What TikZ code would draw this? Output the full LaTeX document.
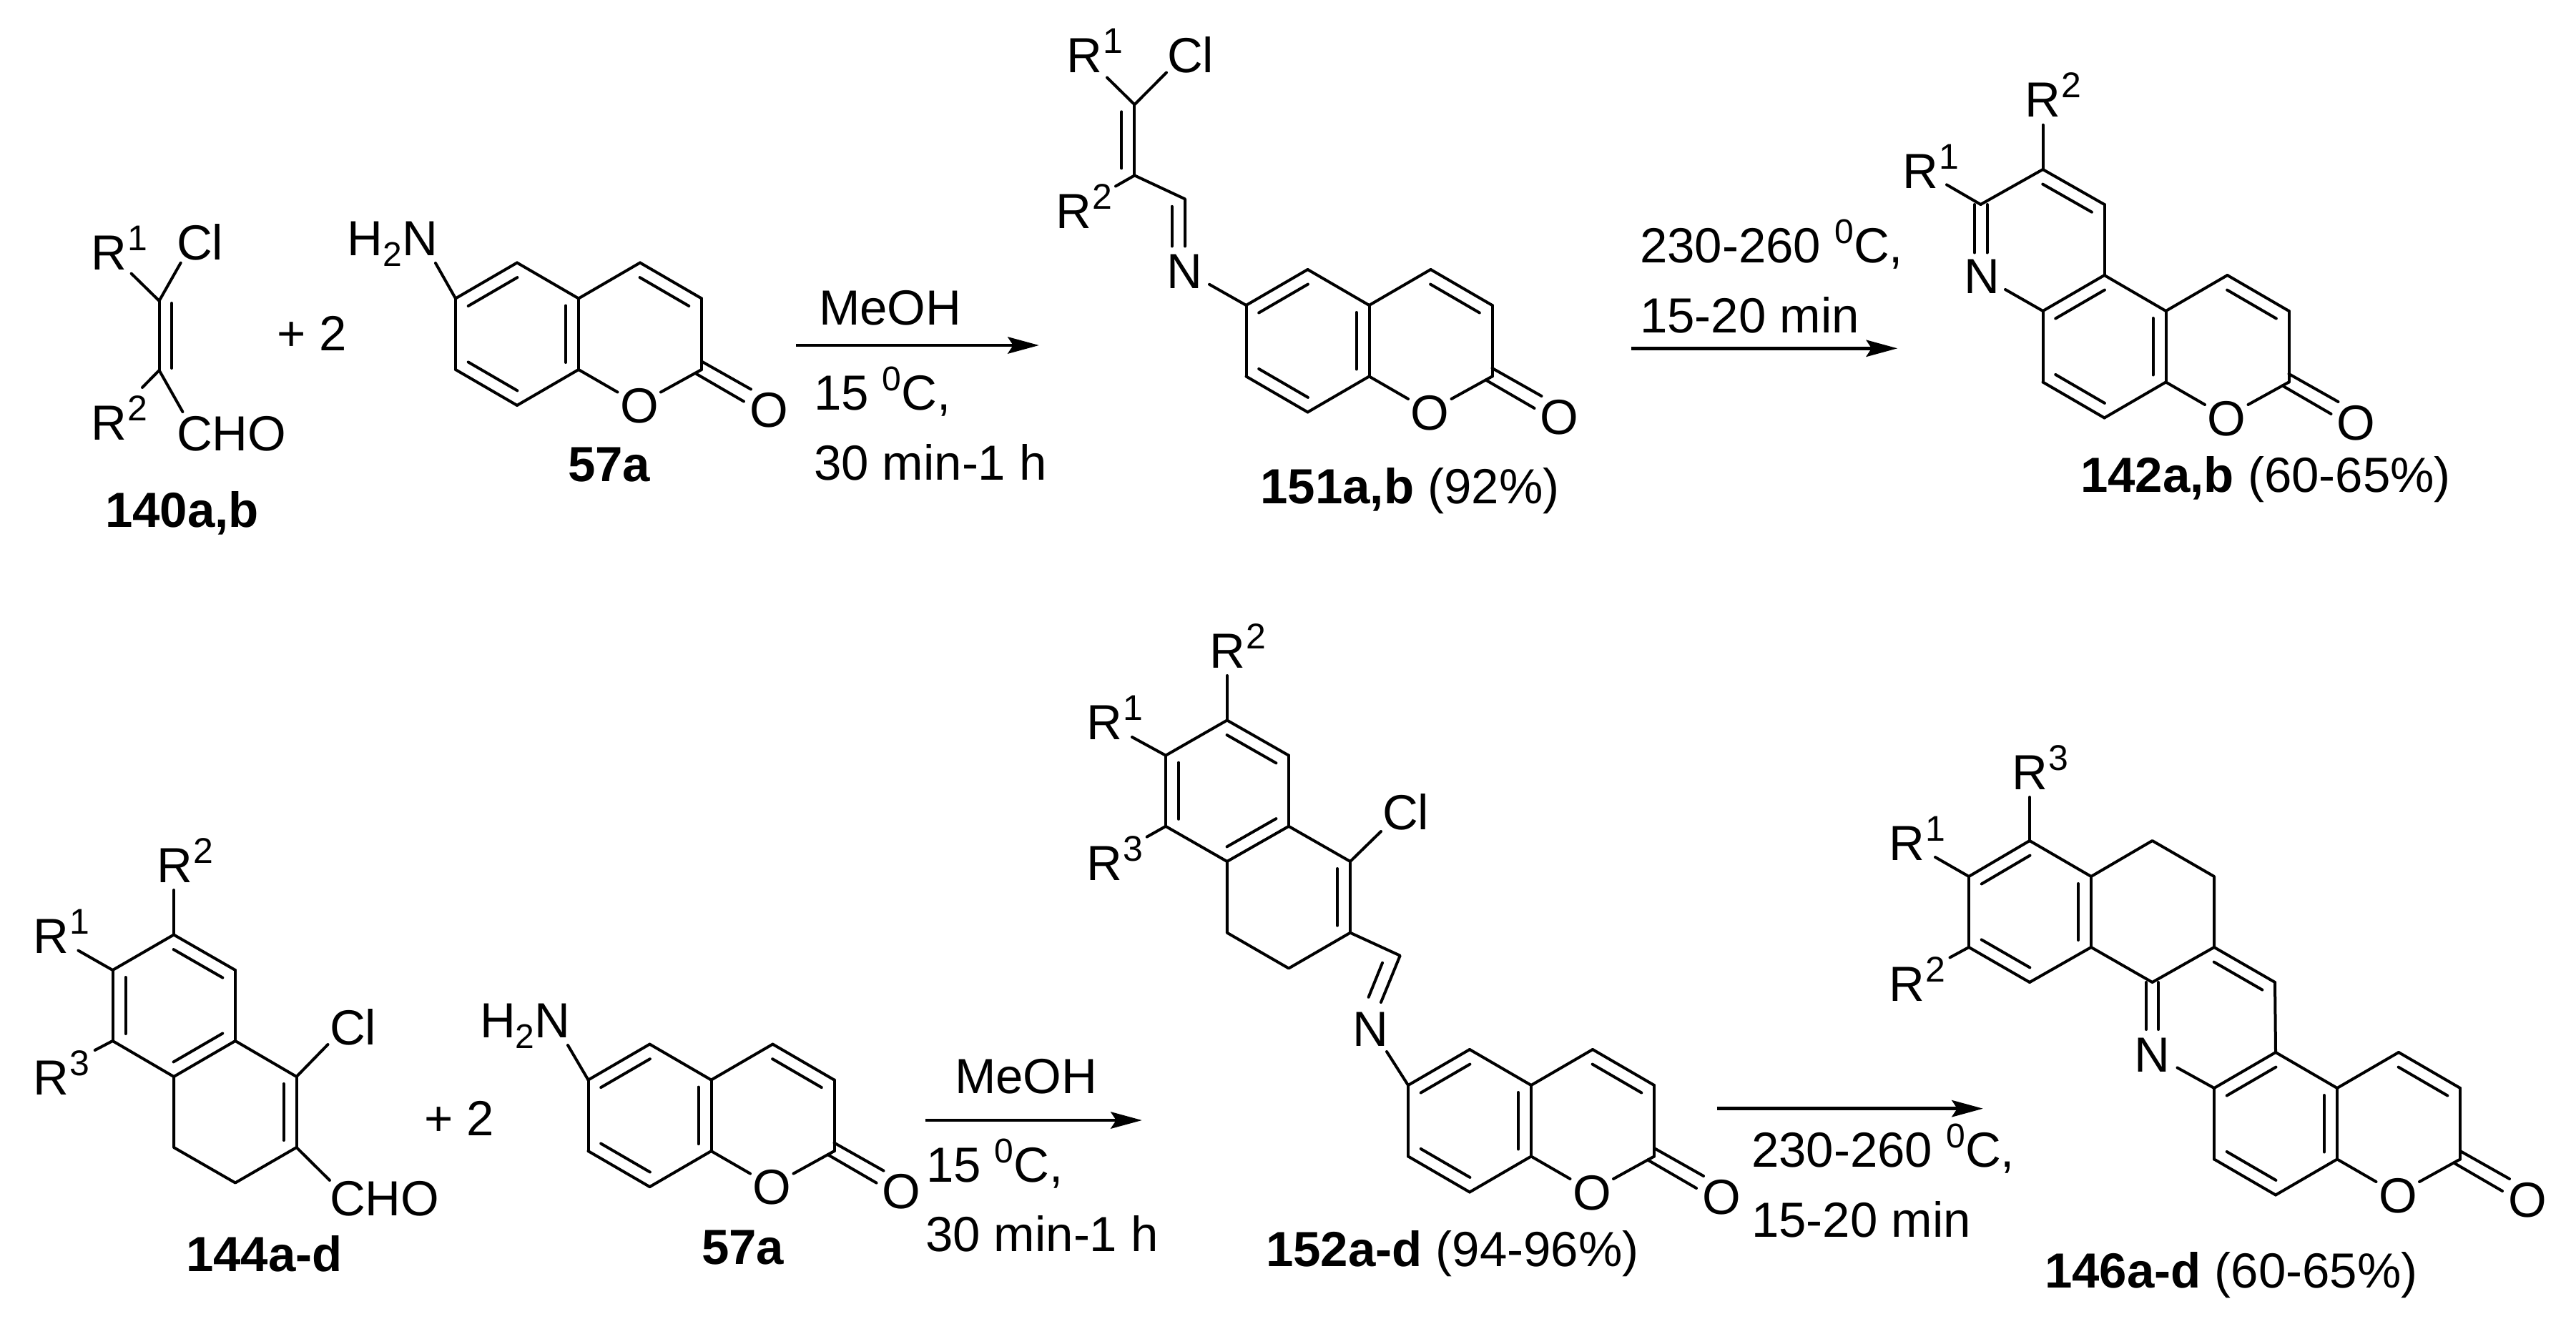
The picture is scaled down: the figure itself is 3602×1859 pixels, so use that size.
\documentclass[tikz,border=0pt]{standalone}
\usepackage{fontspec}
\setmainfont{Liberation Sans}
\usetikzlibrary{calc,arrows.meta}
\tikzset{
  bond/.style={line width=4pt,line cap=round,line join=round,black},
  rxnarrow/.style={line width=4.5pt,black,-{Stealth[length=44pt,width=24pt,inset=8pt,line width=0pt]}},
  lab/.style={inner sep=0pt,outer sep=0pt,anchor=base west,font=\fontsize{69}{80}\selectfont,text=black},
}
\newcommand\sups[1]{\raisebox{27pt}{\fontsize{48}{48}\selectfont #1}}
\newcommand\rsup[1]{\kern2pt\raisebox{27pt}{\fontsize{50}{50}\selectfont #1}}
\newcommand\subs[1]{\raisebox{-15pt}{\fontsize{48}{48}\selectfont #1}}
\newcommand\dblbond[2]{%
  \draw[bond] (#1) -- (#2);
  \draw[bond] ($(#1)!10pt!(#2)!18pt!90:(#2)$) -- ($(#2)!10pt!(#1)!-18pt!90:(#1)$);
}
% prefix, x and y of the ring atom C6
\newcommand\coumarin[3]{%
  \begin{scope}[shift={(#2,#3)}]
    \coordinate (#1a) at (0,0);
    \coordinate (#1b) at (86,-50);
    \coordinate (#1c) at (172,0);
    \coordinate (#1d) at (172,99.5);
    \coordinate (#1e) at (86,149.5);
    \coordinate (#1f) at (0,99.5);
    \coordinate (#1g) at (258,-50);
    \coordinate (#1h) at (344,0);
    \coordinate (#1i) at (344,99.5);
    \coordinate (#1oa) at (226.5,131);
    \coordinate (#1ob) at (287,131);
    \coordinate (#1xa) at (344,88);
    \coordinate (#1xb) at (413,127);
    \coordinate (#1xc) at (335,104.5);
    \coordinate (#1xd) at (403,144);
    \node[lab,anchor=base] (#1O) at (257,174) {O};
    \node[lab,anchor=base] (#1Ox) at (438,180) {O};
  \end{scope}
  \dblbond{#1b}{#1a}
  \draw[bond] (#1b) -- (#1c);
  \dblbond{#1d}{#1c}
  \draw[bond] (#1d) -- (#1e);
  \dblbond{#1f}{#1e}
  \draw[bond] (#1f) -- (#1a);
  \draw[bond] (#1c) -- (#1g);
  \dblbond{#1h}{#1g}
  \draw[bond] (#1h) -- (#1i);
  \draw[bond] (#1d) -- (#1oa);
  \draw[bond] (#1i) -- (#1ob);
  \draw[bond] (#1xa) -- (#1xb);
  \draw[bond] (#1xc) -- (#1xd);
}
\begin{document}
\begin{tikzpicture}[x=1pt,y=-1pt]
\useasboundingbox (0,0) rectangle (3602,1859);
\fill[white] (0,0) rectangle (3602,1859);

% ---------- 140a,b
\coordinate (ua) at (222.6,420.8);
\coordinate (ub) at (222.6,518);
\coordinate (uc) at (240,424);
\coordinate (ud) at (240,515);
\coordinate (ue) at (183.7,382.7);
\coordinate (uf) at (252.7,367.7);
\coordinate (ug) at (199,542);
\coordinate (uh) at (255.4,576);
\draw[bond] (ua) -- (ub);
\draw[bond] (uc) -- (ud);
\draw[bond] (ue) -- (ua) -- (uf);
\draw[bond] (ug) -- (ub) -- (uh);
\node[lab] (uR1) at (127,377.7) {R\rsup{1}};
\node[lab] (uCl) at (247,363) {Cl};
\node[lab] (uR2) at (127,615) {R\rsup{2}};
\node[lab] (uCHO) at (247,630) {CHO};
\node[lab] (uplus) at (387,490.5) {+ 2};
\node[lab] (ulabel) at (147,737.6) {\textbf{140a,b}};

% ---------- 57a top
\coumarin{p}{637}{417.5}
\coordinate (pn) at (609,368);
\draw[bond] (pn) -- (pa);
\node[lab] (pNH) at (485.5,357.8) {H\subs{2}N};
\node[lab] (plabel) at (794,673.5) {\textbf{57a}};

% ---------- arrow 1
\coordinate (aas) at (1113,483);
\coordinate (aae) at (1452.7,483);
\draw[rxnarrow] (aas) -- (aae);
\node[lab] (aat1) at (1145,454) {MeOH};
\node[lab] (aat2) at (1138,573) {15 \sups{0}C,};
\node[lab] (aat3) at (1138,671) {30 min-1 h};

% ---------- 151a,b
\coumarin{q}{1742.5}{427}
\coordinate (qp) at (1586.4,146.3);
\coordinate (qr) at (1586.4,245.4);
\coordinate (qch) at (1657,278.4);
\coordinate (qcha) at (1657,344.5);
\coordinate (qchb) at (1638.5,288.8);
\coordinate (qchc) at (1638.5,344.5);
\coordinate (qn) at (1691,397.8);
\coordinate (qs) at (1548,108.5);
\coordinate (qt) at (1631,101.5);
\coordinate (qu) at (1560,260.5);
\dblbond{qr}{qp}
\draw[bond] (qs) -- (qp) -- (qt);
\draw[bond] (qu) -- (qr) -- (qch) -- (qcha);
\draw[bond] (qchb) -- (qchc);
\draw[bond] (qn) -- (qa);
\node[lab] (qR1) at (1491,101.5) {R\rsup{1}};
\node[lab] (qCl) at (1632,101.5) {Cl};
\node[lab] (qR2) at (1476,320) {R\rsup{2}};
\node[lab] (qN) at (1631,403.5) {N};
\node[lab] (qlabel) at (1762.5,704) {\textbf{151a,b} (92\%)};

% ---------- arrow 2
\coordinate (abs) at (2280.7,487.3);
\coordinate (abe) at (2653,487.3);
\draw[rxnarrow] (abs) -- (abe);
\node[lab] (abt1) at (2293,367.7) {230-260 \sups{0}C,};
\node[lab] (abt2) at (2293,465) {15-20 min};

% ---------- 142a,b
\coumarin{r}{2856.5}{435}
\coordinate (rj) at (2942.5,286);
\coordinate (rk) at (2856.5,237);
\coordinate (rl) at (2769.5,286);
\coordinate (rm) at (2856.5,174.7);
\coordinate (rn) at (2722,258.4);
\coordinate (ro) at (2804,405);
\coordinate (rla) at (2761,286);
\coordinate (rlb) at (2761,353.5);
\coordinate (rlc) at (2778.5,286);
\coordinate (rld) at (2778.5,353.5);
\draw[bond] (rb) -- (rj);
\dblbond{rj}{rk}
\draw[bond] (rk) -- (rl);
\draw[bond] (rm) -- (rk);
\draw[bond] (rn) -- (rl);
\draw[bond] (rla) -- (rlb);
\draw[bond] (rlc) -- (rld);
\draw[bond] (ro) -- (ra);
\node[lab] (rR2) at (2831,163.7) {R\rsup{2}};
\node[lab] (rR1) at (2660,263.7) {R\rsup{1}};
\node[lab] (rN) at (2746,410.6) {N};
\node[lab] (rlabel) at (2909,688) {\textbf{142a,b} (60-65\%)};

% ---------- 144a-d
\coordinate (sA) at (243,1307.5);
\coordinate (sB) at (329,1357);
\coordinate (sC) at (329,1456);
\coordinate (sD) at (243,1506);
\coordinate (sE) at (157.5,1456);
\coordinate (sF) at (157.5,1357);
\coordinate (sG) at (414.6,1506);
\coordinate (sH) at (414.6,1605);
\coordinate (sI) at (329,1654.5);
\coordinate (sJ) at (243,1605);
\coordinate (sa) at (243,1245);
\coordinate (sb) at (109.5,1329.6);
\coordinate (sc) at (132.7,1469);
\coordinate (sd) at (458.5,1461);
\coordinate (se) at (461,1651);
\dblbond{sB}{sA}
\draw[bond] (sB) -- (sC);
\dblbond{sD}{sC}
\draw[bond] (sD) -- (sE);
\dblbond{sF}{sE}
\draw[bond] (sF) -- (sA);
\draw[bond] (sC) -- (sG);
\dblbond{sH}{sG}
\draw[bond] (sH) -- (sI) -- (sJ) -- (sD);
\draw[bond] (sa) -- (sA);
\draw[bond] (sb) -- (sF);
\draw[bond] (sc) -- (sE);
\draw[bond] (sd) -- (sG);
\draw[bond] (se) -- (sH);
\node[lab] (sR2) at (219,1234.6) {R\rsup{2}};
\node[lab] (sR1) at (46,1333) {R\rsup{1}};
\node[lab] (sR3) at (46,1531.5) {R\rsup{3}};
\node[lab] (sCl) at (461,1461) {Cl};
\node[lab] (sCHO) at (461,1700.7) {CHO};
\node[lab] (splus) at (593,1588) {+ 2};
\node[lab] (slabel) at (260,1778) {\textbf{144a-d}};

% ---------- 57a bottom
\coumarin{t}{822.5}{1510.6}
\coordinate (tn) at (794,1462);
\draw[bond] (tn) -- (ta);
\node[lab] (tNH) at (671,1451) {H\subs{2}N};
\node[lab] (tlabel) at (981,1768.6) {\textbf{57a}};

% ---------- arrow 3
\coordinate (acs) at (1294,1567);
\coordinate (ace) at (1596.7,1567);
\draw[rxnarrow] (acs) -- (ace);
\node[lab] (act1) at (1335,1529) {MeOH};
\node[lab] (act2) at (1295,1653) {15 \sups{0}C,};
\node[lab] (act3) at (1294,1750) {30 min-1 h};

% ---------- 152a-d
\coumarin{v}{1969}{1518}
\coordinate (vA) at (1715.8,1007.5);
\coordinate (vB) at (1802,1056.7);
\coordinate (vC) at (1802,1155.8);
\coordinate (vD) at (1715.8,1205);
\coordinate (vE) at (1630,1155.8);
\coordinate (vF) at (1630,1056.7);
\coordinate (vG) at (1888,1205);
\coordinate (vH) at (1888,1304.7);
\coordinate (vI) at (1802,1354.5);
\coordinate (vJ) at (1715.8,1304.7);
\coordinate (vch) at (1957.7,1336.7);
\coordinate (vcha) at (1931,1402);
\coordinate (vchb) at (1933,1346.8);
\coordinate (vchc) at (1913.6,1394.8);
\coordinate (vn) at (1939,1471);
\coordinate (va1) at (1715.8,945);
\coordinate (va2) at (1583,1031);
\coordinate (va3) at (1603.7,1170.6);
\coordinate (va4) at (1931,1163);
\dblbond{vB}{vA}
\draw[bond] (vB) -- (vC);
\dblbond{vD}{vC}
\draw[bond] (vD) -- (vE);
\dblbond{vF}{vE}
\draw[bond] (vF) -- (vA);
\draw[bond] (vC) -- (vG);
\dblbond{vH}{vG}
\draw[bond] (vH) -- (vI) -- (vJ) -- (vD);
\draw[bond] (vH) -- (vch) -- (vcha);
\draw[bond] (vchb) -- (vchc);
\draw[bond] (vn) -- (va);
\draw[bond] (va1) -- (vA);
\draw[bond] (va2) -- (vF);
\draw[bond] (va3) -- (vE);
\draw[bond] (va4) -- (vG);
\node[lab] (vR2) at (1691,934.6) {R\rsup{2}};
\node[lab] (vR1) at (1519,1034) {R\rsup{1}};
\node[lab] (vR3) at (1519,1231) {R\rsup{3}};
\node[lab] (vCl) at (1933,1160) {Cl};
\node[lab] (vN) at (1891,1463) {N};
\node[lab] (vlabel) at (1770,1771) {\textbf{152a-d} (94-96\%)};

% ---------- arrow 4
\coordinate (ads) at (2400.7,1550.7);
\coordinate (ade) at (2772.7,1550.7);
\draw[rxnarrow] (ads) -- (ade);
\node[lab] (adt1) at (2449,1632.7) {230-260 \sups{0}C,};
\node[lab] (adt2) at (2449,1730) {15-20 min};

% ---------- 146a-d
\coumarin{w}{3096}{1522}
\coordinate (wj) at (3181,1374);
\coordinate (wk) at (3096,1325);
\coordinate (wl) at (3009.5,1374);
\coordinate (wm) at (2924,1325);
\coordinate (wn) at (2924,1226);
\coordinate (wo) at (3009.5,1176);
\coordinate (wp) at (3096,1226);
\coordinate (wq) at (2838,1176);
\coordinate (wr) at (2753,1226);
\coordinate (wt) at (2753,1325);
\coordinate (wu) at (2838,1374);
\coordinate (wa1) at (2838,1115);
\coordinate (wa2) at (2706,1199);
\coordinate (wa3) at (2726.5,1339.4);
\coordinate (wla) at (3001,1374);
\coordinate (wlb) at (3001,1440);
\coordinate (wlc) at (3018,1374);
\coordinate (wld) at (3018,1440);
\coordinate (wna) at (3044.5,1493.5);
\draw[bond] (wb) -- (wj);
\dblbond{wj}{wk}
\draw[bond] (wk) -- (wl) -- (wm);
\draw[bond] (wk) -- (wp) -- (wo) -- (wn);
\dblbond{wm}{wn}
\draw[bond] (wn) -- (wq);
\dblbond{wq}{wr}
\draw[bond] (wr) -- (wt);
\dblbond{wt}{wu}
\draw[bond] (wu) -- (wm);
\draw[bond] (wla) -- (wlb);
\draw[bond] (wlc) -- (wld);
\draw[bond] (wna) -- (wa);
\draw[bond] (wa1) -- (wq);
\draw[bond] (wa2) -- (wr);
\draw[bond] (wa3) -- (wt);
\node[lab] (wR3) at (2813,1104) {R\rsup{3}};
\node[lab] (wR1) at (2641,1203) {R\rsup{1}};
\node[lab] (wR2) at (2641,1400) {R\rsup{2}};
\node[lab] (wN) at (2984.5,1499) {N};
\node[lab] (wlabel) at (2859,1801) {\textbf{146a-d} (60-65\%)};
\end{tikzpicture}
\end{document}
